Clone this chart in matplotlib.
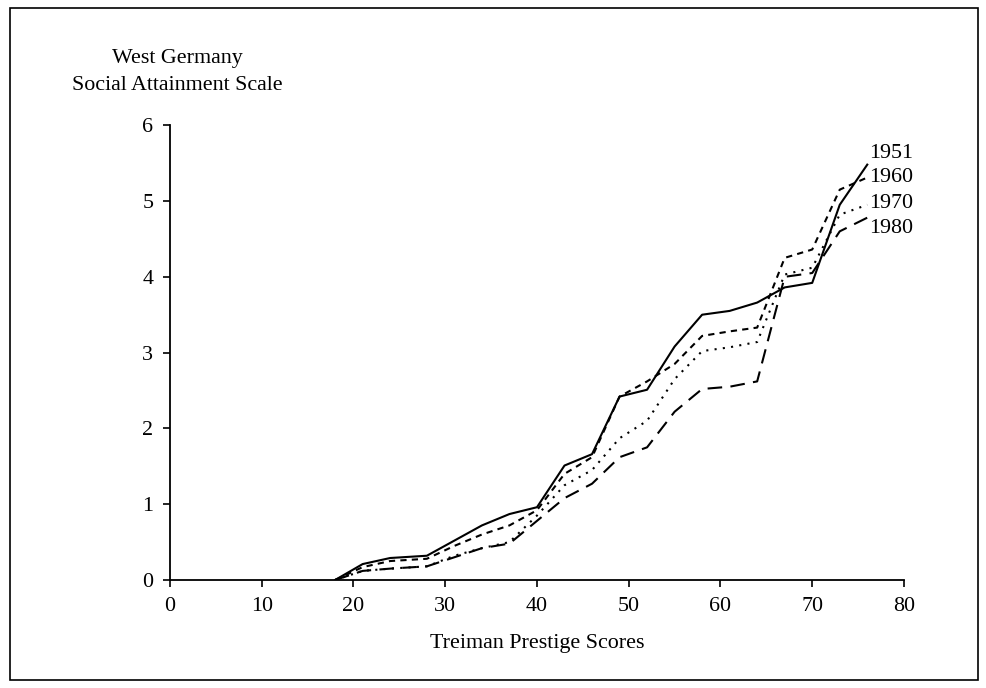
import numpy as np
import matplotlib.pyplot as plt
from matplotlib.patches import Rectangle

plt.rcParams['font.family'] = ['Liberation Serif', 'DejaVu Serif']

# Treiman prestige score grid and scale values per census year
scores = [18, 21, 24, 28, 31, 34, 37, 40, 43, 46, 49, 52, 55, 58, 61, 64, 67, 70, 73, 76]
y1951 = [0, .21, .29, .32, .52, .72, .87, .96, 1.51, 1.66, 2.42, 2.51, 3.08, 3.50, 3.55, 3.66, 3.86, 3.92, 4.95, 5.48]
y1960 = [0, .17, .25, .28, .45, .60, .72, .92, 1.40, 1.62, 2.42, 2.62, 2.85, 3.22, 3.28, 3.33, 4.25, 4.36, 5.15, 5.31]
y1970 = [0, .12, .15, .18, .32, .42, .50, .85, 1.25, 1.45, 1.87, 2.10, 2.65, 3.02, 3.07, 3.14, 4.03, 4.12, 4.82, 4.95]
y1980 = [0, .12, .15, .18, .30, .42, .48, .78, 1.08, 1.27, 1.62, 1.75, 2.22, 2.52, 2.55, 2.62, 4.00, 4.05, 4.60, 4.78]
years = ['1951', '1960', '1970', '1980']
label_y = [5.63, 5.31, 4.97, 4.64]

fs = 15.8
fig = plt.figure(figsize=(9.86, 6.88), dpi=100)
ax = fig.add_axes([0.1724, 0.157, 0.7444, 0.661])

styles = ['-', (0, (3, 2.5)), (0, (1, 3)), (0, (7, 4))]
for ys, ls in zip([y1951, y1960, y1970, y1980], styles):
    ax.plot(scores, ys, color='black', lw=1.5, linestyle=ls)

for name, ly in zip(years, label_y):
    ax.text(76.2, ly, name, fontsize=fs, va='center', ha='left')

ax.set_xlim(0, 80)
ax.set_ylim(0, 6)
ax.set_xticks(np.arange(0, 81, 10))
ax.set_yticks(np.arange(0, 7, 1))
ax.spines['top'].set_visible(False)
ax.spines['right'].set_visible(False)
ax.spines['left'].set_linewidth(1.3)
ax.spines['bottom'].set_linewidth(1.3)
ax.tick_params(direction='out', length=5, width=1.2, labelsize=fs, pad=7)

ax.set_xlabel('Treiman Prestige Scores', fontsize=fs, labelpad=13)
fig.text(177 / 986, 1 - 58 / 688, 'West Germany', fontsize=fs, ha='center', va='center')
fig.text(177 / 986, 1 - 85 / 688, 'Social Attainment Scale', fontsize=fs, ha='center', va='center')

# frame around the whole figure
fig.patches.append(Rectangle((10 / 986, 8 / 688), 968 / 986, 672 / 688,
                             transform=fig.transFigure, fill=False,
                             edgecolor='black', lw=1.2))

fig.savefig('out.png', dpi=100)
